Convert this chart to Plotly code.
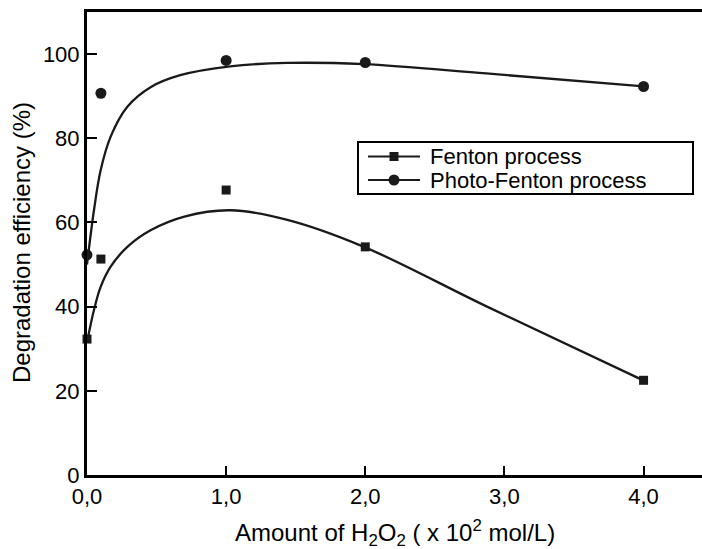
import plotly.graph_objects as go

# measured data
x_data = [0.0, 0.1, 1.0, 2.0, 4.0]
fenton = [32.3, 51.3, 67.7, 54.2, 22.5]
photo_fenton = [52.3, 90.7, 98.5, 98.0, 92.3]

# fitted curves
fit_fenton_x = [0.0, 0.05, 0.098, 0.17, 0.29, 0.46, 0.70, 1.03, 1.44, 1.99, 2.875, 3.99]
fit_fenton_y = [31.5, 39.2, 44.7, 49.5, 54.2, 58.2, 61.4, 62.9, 60.6, 54.2, 40.0, 22.6]
fit_photo_x = [0.0, 0.05, 0.098, 0.17, 0.29, 0.46, 0.67, 1.03, 1.44, 1.99, 2.87, 3.98]
fit_photo_y = [50.0, 62.9, 72.4, 80.4, 87.5, 92.2, 95.0, 97.1, 97.9, 97.6, 95.4, 92.4]

x_ticks = [0, 1, 2, 3, 4]
x_ticklabels = ["0,0", "1,0", "2,0", "3,0", "4,0"]
y_ticks = [0, 20, 40, 60, 80, 100]
legend_names = ["Fenton process", "Photo-Fenton process"]
legend_symbols = ["square", "circle"]

FONT = "Liberation Sans, Arial, sans-serif"
DARK = "#1a1a1a"

W, H = 702, 549
ML, MR, MT, MB = 87, 0, 12, 74
PW, PH = W - ML - MR, H - MT - MB


def px2x(px):
    return (px - ML) / PW


def px2y(py):
    return (H - MB - py) / PH


fig = go.Figure()
fig.add_trace(go.Scatter(x=fit_fenton_x, y=fit_fenton_y, mode="lines",
                         line=dict(color=DARK, width=2.3, shape="spline", smoothing=1.0),
                         showlegend=False, hoverinfo="skip"))
fig.add_trace(go.Scatter(x=fit_photo_x, y=fit_photo_y, mode="lines",
                         line=dict(color=DARK, width=2.3, shape="spline", smoothing=1.0),
                         showlegend=False, hoverinfo="skip"))
fig.add_trace(go.Scatter(x=x_data, y=fenton, mode="markers", name=legend_names[0],
                         marker=dict(symbol="square", size=9, color=DARK),
                         showlegend=False, cliponaxis=False))
fig.add_trace(go.Scatter(x=x_data, y=photo_fenton, mode="markers", name=legend_names[1],
                         marker=dict(symbol="circle", size=11, color=DARK),
                         showlegend=False, cliponaxis=False))

shapes = []
annotations = []
# legend box (decoration)
shapes.append(dict(type="rect", xref="paper", yref="paper",
                   x0=px2x(358), x1=px2x(693), y0=px2y(194), y1=px2y(142),
                   line=dict(color="black", width=2), fillcolor="white", layer="above"))
row_y = [156.5, 180]
for i, (name, sym) in enumerate(zip(legend_names, legend_symbols)):
    yy = px2y(row_y[i])
    shapes.append(dict(type="line", xref="paper", yref="paper",
                       x0=px2x(368), x1=px2x(420), y0=yy, y1=yy,
                       line=dict(color=DARK, width=2), layer="above"))
    half = 4.5 if sym == "square" else 5.5
    shapes.append(dict(type="rect" if sym == "square" else "circle",
                       xref="paper", yref="paper", xsizemode="pixel", ysizemode="pixel",
                       xanchor=px2x(394), yanchor=yy,
                       x0=-half, x1=half, y0=-half, y1=half,
                       line=dict(color=DARK, width=0), fillcolor=DARK, layer="above"))
    annotations.append(dict(xref="paper", yref="paper", x=px2x(428), y=yy,
                            xanchor="left", yanchor="middle", showarrow=False,
                            text=name, font=dict(size=22, color="black")))

# axis titles
annotations.append(dict(xref="paper", yref="paper", x=px2x(395), y=px2y(532.5),
                        xanchor="center", yanchor="middle", showarrow=False,
                        text="Amount of H<sub>2</sub>O<sub>2</sub> ( x 10<sup>2</sup> mol/L)",
                        font=dict(size=24, color="black")))
annotations.append(dict(xref="paper", yref="paper", x=px2x(21), y=px2y(243),
                        xanchor="center", yanchor="middle", showarrow=False, textangle=-90,
                        text="Degradation efficiency (%)",
                        font=dict(size=24, color="black")))

fig.update_layout(
    width=W, height=H,
    margin=dict(l=ML, r=MR, t=MT, b=MB),
    paper_bgcolor="white", plot_bgcolor="white",
    font=dict(family=FONT, size=22, color="black"),
    showlegend=False,
    shapes=shapes, annotations=annotations,
    xaxis=dict(range=[0, 4.42], tickvals=x_ticks, ticktext=x_ticklabels, automargin=False,
               showline=True, linecolor="black", linewidth=3, mirror=True,
               ticks="inside", ticklen=9, tickwidth=2, tickcolor="black",
               showgrid=False, zeroline=False, tickfont=dict(size=22)),
    yaxis=dict(range=[0, 110], tickvals=y_ticks, automargin=False,
               showline=True, linecolor="black", linewidth=3,
               ticks="inside", ticklen=10, tickwidth=2, tickcolor="black",
               showgrid=False, zeroline=False, tickfont=dict(size=22)),
)

fig.write_html("out.html", config={"displayModeBar": False},
               post_script="document.body.style.margin='0';document.body.style.overflow='hidden';")
